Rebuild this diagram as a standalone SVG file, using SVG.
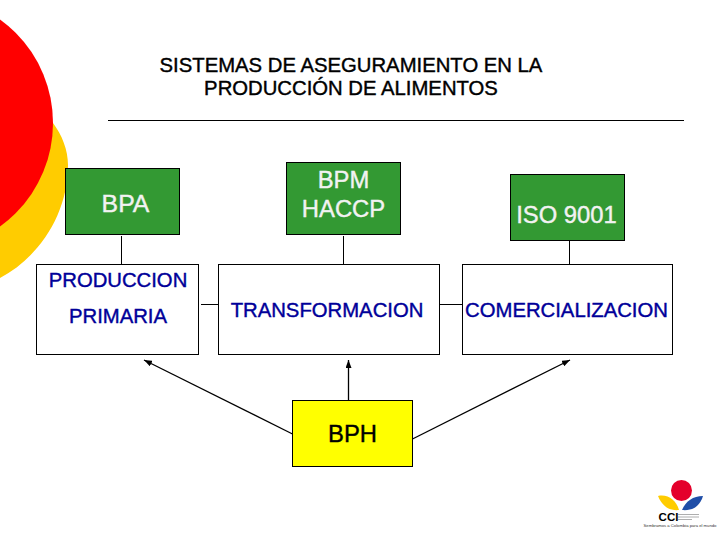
<svg xmlns="http://www.w3.org/2000/svg" width="720" height="540" viewBox="0 0 720 540">
<style>
text{font-family:"Liberation Sans",Arial,sans-serif;text-anchor:middle}
.t{font-size:20.300px;fill:#000;stroke:#000;stroke-width:.4}
.g rect{fill:#339933;stroke:#000;stroke-width:1}
.g text{font-size:23.800px;fill:#f2f2f2;stroke:#f2f2f2;stroke-width:.4}
.w rect{fill:#fff;stroke:#000;stroke-width:1}
.w text{font-size:20.300px;fill:#000099;stroke:#000099;stroke-width:.4}
.c{stroke:#000;stroke-width:1;fill:none}
.a{stroke:#000;stroke-width:1.300;fill:none;marker-end:url(#ah)}
</style>
<defs><marker id="ah" markerUnits="userSpaceOnUse" markerWidth="8" markerHeight="6" refX="8" refY="3" orient="auto"><path d="M0 0L8 3L0 6Z" fill="#000"/></marker></defs>
<rect width="720" height="540" fill="#fff"/>
<g id="decor">
<path d="M0 100H40L53 123C62 135 68 150 68 165C68 215 38 258 0 278Z" fill="#ffcc00"/>
<circle cx="-74.600" cy="123" r="127.600" fill="#ff0000"/>
</g>
<g id="title">
<text class="t" x="351" y="71.500">SISTEMAS DE ASEGURAMIENTO EN LA</text>
<text class="t" x="351" y="95">PRODUCCIÓN DE ALIMENTOS</text>
<line class="c" x1="108" y1="120.500" x2="684" y2="120.500"/>
</g>
<g id="connectors">
<path class="c" d="M121.500 236V264M343.500 236V264M569.500 241V264M201 304.500H218M440 304.500H462"/>
<path class="a" d="M292.500 434L144 360"/>
<path class="a" d="M348.500 400V360"/>
<path class="a" d="M411.500 439.500L570 360"/>
</g>
<g id="bpa" class="g"><rect x="65.500" y="168.500" width="114" height="66"/><text x="125.500" y="212" style="font-size:24.800px">BPA</text></g>
<g id="bpm" class="g"><rect x="286.500" y="162.500" width="114" height="72"/><text x="343.500" y="188">BPM</text><text x="343.500" y="216.500">HACCP</text></g>
<g id="iso" class="g"><rect x="510.500" y="174.500" width="114" height="66"/><text x="566.500" y="222.500">ISO 9001</text></g>
<g id="produccion" class="w"><rect x="36.500" y="264.500" width="162" height="90"/><text x="118" y="287">PRODUCCION</text><text x="118" y="323">PRIMARIA</text></g>
<g id="transformacion" class="w"><rect x="218.500" y="264.500" width="221" height="90"/><text x="327" y="316.700">TRANSFORMACION</text></g>
<g id="comercializacion" class="w"><rect x="462.500" y="264.500" width="210" height="90"/><text x="566.500" y="316.700">COMERCIALIZACION</text></g>
<g id="bph"><rect x="292.500" y="400.500" width="120" height="66" fill="#ffff00" stroke="#000"/><text x="352.500" y="441.500" font-size="23.800" stroke="#000" stroke-width=".4">BPH</text></g>
<g id="logo">
<circle cx="681.500" cy="490.500" r="10.500" fill="#e4002b"/>
<path d="M658 496C668 494 676 500 679 510C669 511 662 506 658 496Z" fill="#ffcc00"/>
<path d="M703 496C693 496 686 501 682 510C693 511 700 506 703 496Z" fill="#1f4ea8"/>
<text x="668.500" y="520.500" font-size="11.500" font-weight="bold" fill="#000">CCI</text>
<path d="M678 514.500H699M678 517H699M678 519.500H692" stroke="#999" stroke-width=".8" fill="none"/>
<text x="680" y="527" font-size="4.200" fill="#333">Sembramos a Colombia para el mundo</text>
</g>
</svg>
